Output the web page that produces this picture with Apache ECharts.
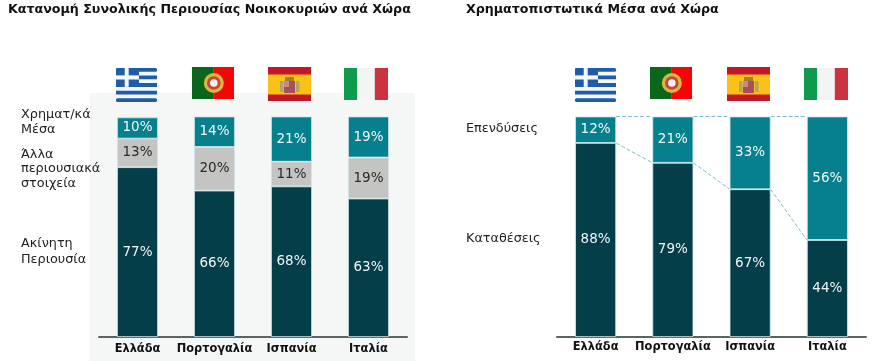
<!DOCTYPE html>
<html>
<head>
<meta charset="utf-8">
<style>html,body{margin:0;padding:0;background:#fff}#c{width:879px;height:361px}</style>
<script src="https://cdn.jsdelivr.net/npm/echarts@6/dist/echarts.min.js"></script>
</head>
<body>
<div id="c"></div>
<script>
const categories = ['Ελλάδα', 'Πορτογαλία', 'Ισπανία', 'Ιταλία'];
const realEstate = [77, 66.4, 68.3, 62.8];
const otherAssets = [13, 19.8, 11.2, 18.6];
const financialAssets = [9.6, 13.8, 20.5, 18.6];
const deposits = [88, 79, 67, 44];
const investments = [12, 21, 33, 56];
const leftTitle = 'Κατανομή Συνολικής Περιουσίας Νοικοκυριών ανά Χώρα';
const rightTitle = 'Χρηματοπιστωτικά Μέσα ανά Χώρα';

const DARK = '#033e49', TEAL = '#07808e', GREY = '#c4c4c2', EDGE = '#d3e9ec';
const FONT = '"DejaVu Sans", sans-serif';
const BARW = 41;

function barSeries(name, values, color, idx, labelColor) {
  return {
    type: 'bar', name, data: values, stack: 's' + idx, xAxisIndex: idx, yAxisIndex: idx,
    barWidth: BARW, z: 3,
    itemStyle: { color, borderColor: EDGE, borderWidth: 0.8 },
    label: {
      show: true, position: 'inside', color: labelColor, fontFamily: FONT, fontSize: 13.5,
      formatter: p => Math.round(p.value) + '%'
    }
  };
}

function xAxis(idx) {
  return {
    type: 'category', data: categories, gridIndex: idx,
    axisLine: { show: true, lineStyle: { color: '#5c6365', width: 2 } },
    axisTick: { show: false },
    axisLabel: { color: '#111', fontFamily: FONT, fontWeight: 'bold', fontSize: 11.4, margin: idx === 0 ? 7 : 5, interval: 0 }
  };
}
function yAxis(idx) {
  return { type: 'value', gridIndex: idx, min: 0, max: 100, show: false };
}

// connector levels from the right chart's data
const connectorData = [];
for (let i = 0; i < categories.length - 1; i++) {
  connectorData.push([i, deposits[i] + investments[i], deposits[i + 1] + investments[i + 1]]);
  connectorData.push([i, deposits[i], deposits[i + 1]]);
}

function text(x, y, lines, opt) {
  return lines.map((t, i) => ({
    type: 'text', x, y: y[i], z: 10, silent: true,
    style: Object.assign({ text: t, fill: '#222', font: '12.8px ' + FONT, verticalAlign: 'middle' }, opt || {})
  }));
}
function rect(x, y, w, h, fill, r) {
  return { type: 'rect', z: 2, silent: true, shape: { x, y, width: w, height: h, r: r || 0 }, style: { fill } };
}
function circle(cx, cy, rad, fill) {
  return { type: 'circle', z: 2, silent: true, shape: { cx, cy, r: rad }, style: { fill } };
}
function greece(x, y) {
  const w = 41, h = 34, b = '#1f5da8', wh = '#f4f6f8', s = h / 9, out = [];
  out.push(rect(x, y, w, h, wh, 2));
  for (let i = 0; i < 9; i += 2) out.push(rect(x, y + i * s, w, s, b, (i === 0 || i === 8) ? 1.5 : 0));
  out.push(rect(x, y, 23, 5 * s, b, 1.5));
  out.push(rect(x + 8.7, y, 4, 5 * s, wh));
  out.push(rect(x, y + 2 * s - 0.2, 23, s + 0.4, wh));
  return out;
}
function portugal(x, y) {
  const w = 42, h = 32, cx = x + w * 0.52, cy = y + h * 0.5;
  return [
    rect(x, y, w * 0.52, h, '#0b661c'), rect(x + w * 0.52, y, w * 0.48, h, '#f40606'),
    circle(cx, cy, 10, '#d9b83a'),
    circle(cx, cy, 6.8, '#c8453a'),
    circle(cx, cy, 3.8, '#eef0f4')
  ];
}
function spain(x, y) {
  const w = 43, h = 34;
  return [
    rect(x, y, w, h, '#c5152b'), rect(x, y + 7.5, w, 20, '#fac217'),
    rect(x + 12, y + 14, 3.5, 11, '#b5a468'), rect(x + 28, y + 14, 3.5, 11, '#b5a468'),
    rect(x + 16, y + 14, 11, 12, '#a8505a'),
    rect(x + 16, y + 14, 5, 6, '#c98a8f'),
    rect(x + 17, y + 10, 9, 4, '#a67f2c')
  ];
}
function italy(x, y) {
  const w = 44, h = 32;
  return [
    rect(x, y, w * 0.3, h, '#0f9a4e'), rect(x + w * 0.3, y, w * 0.4, h, '#f3f4f4'), rect(x + w * 0.7, y, w * 0.3, h, '#cc3341')
  ];
}

const graphics = [
  { type: 'rect', z: 0, silent: true, shape: { x: 90, y: 93, width: 325, height: 268 }, style: { fill: '#f5f7f7' } },
  ...greece(116, 68), ...portugal(192, 67), ...spain(268, 67), ...italy(344, 68),
  ...greece(575, 68), ...portugal(650, 67), ...spain(727, 67), ...italy(804, 68),
  ...text(8, [10], [leftTitle], { font: 'bold 12.65px ' + FONT, fill: '#111' }),
  ...text(466, [10], [rightTitle], { font: 'bold 12.65px ' + FONT, fill: '#111' }),
  ...text(21, [115, 130], ['Χρηματ/κά', 'Μέσα']),
  ...text(21, [155, 169, 184], ['Άλλα', 'περιουσιακά', 'στοιχεία']),
  ...text(21, [244, 260], ['Ακίνητη', 'Περιουσία']),
  ...text(466, [129], ['Επενδύσεις']),
  ...text(466, [239], ['Καταθέσεις'])
];

const chart = echarts.init(document.getElementById('c'), null, { renderer: 'canvas' });
chart.setOption({
  animation: false,
  backgroundColor: '#fff',
  grid: [
    { left: 99, top: 116.5, width: 308, height: 220.5 },
    { left: 557, top: 116.5, width: 309, height: 220.5 }
  ],
  xAxis: [xAxis(0), xAxis(1)],
  yAxis: [yAxis(0), yAxis(1)],
  graphic: graphics,
  series: [
    barSeries('Ακίνητη Περιουσία', realEstate, DARK, 0, '#f2f6f6'),
    barSeries('Άλλα περιουσιακά στοιχεία', otherAssets, GREY, 0, '#2a2a2a'),
    barSeries('Χρηματ/κά Μέσα', financialAssets, TEAL, 0, '#f2f6f6'),
    barSeries('Καταθέσεις', deposits, DARK, 1, '#f2f6f6'),
    barSeries('Επενδύσεις', investments, TEAL, 1, '#f2f6f6'),
    {
      type: 'custom', xAxisIndex: 1, yAxisIndex: 1, data: connectorData, z: 2,
      encode: { x: 0, y: [1, 2] }, clip: false, silent: true,
      renderItem: (params, api) => {
        const i = api.value(0);
        const a = api.coord([i, api.value(1)]);
        const b = api.coord([i + 1, api.value(2)]);
        return {
          type: 'line',
          shape: { x1: a[0] + BARW / 2, y1: a[1], x2: b[0] - BARW / 2, y2: b[1] },
          style: { stroke: '#7dbccb', lineWidth: 1, lineDash: [4, 2], fill: null }
        };
      }
    }
  ]
});
</script>
</body>
</html>
